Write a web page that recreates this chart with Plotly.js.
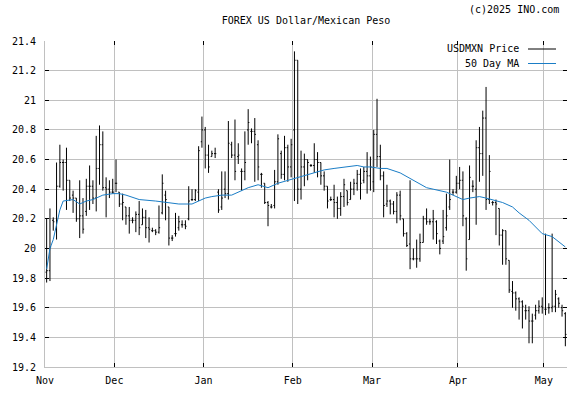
<!DOCTYPE html>
<html>
<head>
<meta charset="utf-8">
<script src="https://cdn.plot.ly/plotly-3.0.1.min.js"></script>
<style>
  html, body { margin: 0; padding: 0; background: #fff; }
  #chart { width: 585px; height: 394px; }
</style>
</head>
<body>
<div id="chart"></div>
<script>
// Daily USDMXN sessions (Sun-Fri), Nov 6 2024 .. May 8 2025
const openP = [
19.84,19.85,20.19,20.13,20.42,20.58,20.58,20.46,20.36,20.34,20.20,20.22,20.25,20.42,20.42,20.34,20.54,20.70,20.41,20.40,
20.38,20.44,20.38,20.30,20.28,20.22,20.19,20.19,20.23,20.16,20.21,20.14,20.12,20.12,20.11,20.24,20.36,20.28,20.07,20.10,
20.14,20.16,20.16,20.20,20.33,20.33,20.38,20.72,20.80,20.63,20.62,20.64,20.38,20.28,20.40,20.37,20.70,20.63,20.62,20.52,
20.52,20.80,20.79,20.79,20.70,20.50,20.44,20.31,20.28,20.29,20.45,20.64,20.50,20.68,20.55,20.80,21.27,20.40,20.55,20.60,
20.56,20.56,20.60,20.58,20.49,20.42,20.33,20.33,20.31,20.27,20.35,20.39,20.33,20.40,20.44,20.50,20.46,20.52,20.49,20.45,
20.77,20.62,20.49,20.30,20.32,20.30,20.25,20.36,20.20,20.10,20.03,19.93,19.93,19.93,20.04,20.20,20.18,20.18,20.18,20.05,
20.05,20.14,20.28,20.38,20.38,20.44,20.46,20.20,20.06,20.42,20.40,20.68,20.64,20.88,20.33,20.31,20.31,20.27,20.09,20.12,
19.92,19.71,19.70,19.66,19.64,19.58,19.58,19.51,19.55,19.58,19.61,19.59,19.60,19.60,19.61,19.66,19.60,19.56
];
const highP = [
20.20,20.27,20.21,20.58,20.70,20.60,20.68,20.46,20.39,20.34,20.46,20.34,20.47,20.56,20.46,20.76,20.83,20.79,20.48,20.46,
20.47,20.60,20.38,20.37,20.28,20.28,20.21,20.25,20.32,20.27,20.26,20.21,20.14,20.13,20.29,20.50,20.39,20.28,20.09,20.24,
20.22,20.19,20.19,20.42,20.40,20.40,20.69,20.89,20.82,20.70,20.66,20.68,20.40,20.52,20.52,20.86,20.72,20.87,20.71,20.54,
20.79,20.94,20.81,20.88,20.73,20.51,20.44,20.32,20.30,20.53,20.77,20.66,20.76,20.70,20.74,21.33,21.27,20.66,20.64,20.60,
20.57,20.71,20.65,20.58,20.52,20.42,20.35,20.43,20.35,20.38,20.47,20.39,20.45,20.47,20.53,20.54,20.55,20.65,20.62,20.80,
21.01,20.70,20.52,20.43,20.33,20.32,20.38,20.39,20.20,20.11,20.46,20.00,20.06,20.10,20.22,20.27,20.20,20.26,20.19,20.06,
20.26,20.37,20.60,20.40,20.49,20.55,20.52,20.21,20.56,20.46,20.73,20.82,20.93,21.09,20.63,20.32,20.33,20.27,20.13,20.12,
19.92,19.78,19.71,19.67,19.65,19.62,19.61,19.56,19.62,19.65,19.67,20.10,19.63,20.10,19.72,19.67,19.62,19.57
];
const lowP = [
19.77,19.78,20.12,20.06,20.41,20.39,20.26,20.32,20.24,20.18,20.07,20.10,20.22,20.26,20.30,20.25,20.43,20.39,20.21,20.34,
20.37,20.38,20.28,20.19,20.16,20.10,20.17,20.11,20.09,20.16,20.07,20.04,20.11,20.09,20.10,20.23,20.19,20.02,20.05,20.08,
20.12,20.14,20.13,20.19,20.32,20.32,20.32,20.68,20.54,20.51,20.62,20.61,20.24,20.26,20.34,20.33,20.61,20.46,20.57,20.39,
20.46,20.70,20.71,20.45,20.46,20.41,20.30,20.15,20.27,20.27,20.43,20.47,20.46,20.45,20.48,20.32,20.30,20.33,20.42,20.46,
20.55,20.51,20.48,20.43,20.39,20.27,20.32,20.21,20.20,20.22,20.28,20.29,20.33,20.36,20.39,20.33,20.44,20.37,20.39,20.38,
20.55,20.46,20.21,20.28,20.23,20.23,20.17,20.19,20.08,20.01,19.86,19.92,19.87,19.91,20.04,20.16,20.16,20.06,20.03,19.96,
20.03,20.12,20.26,20.36,20.37,20.40,20.15,19.85,20.06,20.38,20.16,20.45,20.49,20.26,20.30,20.29,20.09,20.02,19.89,19.89,
19.70,19.60,19.58,19.52,19.46,19.52,19.36,19.36,19.52,19.56,19.56,19.55,19.56,19.57,19.57,19.60,19.54,19.34
];
const closeP = [
19.85,20.01,20.18,20.42,20.58,20.58,20.46,20.34,20.34,20.20,20.22,20.13,20.42,20.42,20.34,20.54,20.70,20.41,20.40,20.38,
20.38,20.44,20.30,20.31,20.22,20.19,20.19,20.23,20.14,20.21,20.14,20.13,20.12,20.11,20.14,20.44,20.33,20.07,20.07,20.10,
20.18,20.16,20.15,20.32,20.33,20.39,20.66,20.80,20.63,20.55,20.64,20.64,20.26,20.34,20.37,20.71,20.63,20.52,20.63,20.52,
20.58,20.85,20.79,20.77,20.55,20.50,20.31,20.29,20.28,20.45,20.74,20.50,20.68,20.55,20.70,21.27,20.40,20.55,20.60,20.58,
20.56,20.60,20.58,20.49,20.42,20.32,20.33,20.31,20.27,20.35,20.43,20.31,20.40,20.44,20.50,20.44,20.52,20.49,20.55,20.77,
20.62,20.49,20.29,20.32,20.30,20.25,20.36,20.22,20.10,20.02,19.93,19.93,19.93,20.04,20.20,20.18,20.18,20.20,20.10,20.00,
20.08,20.22,20.33,20.38,20.44,20.46,20.22,19.93,20.48,20.42,20.68,20.64,20.88,20.33,20.52,20.31,20.30,20.09,20.12,19.93,
19.72,19.70,19.66,19.64,19.61,19.58,19.51,19.51,19.58,19.61,19.60,19.59,19.60,19.61,19.69,19.63,19.58,19.42
];
// 50 day moving average, read at selected sessions
const maIdx = [0,1,2,3,4,5,7,8,10,12,14,16,17,20,22,24,28,33,37,40,44,48,50,53,56,58,61,64,67,70,73,76,79,84,87,90,94,96,98,101,103,107,111,115,117,121,123,126,128,131,133,135,138,141,143,146,150,153,157];
const maVal = [19.86,20.00,20.06,20.15,20.26,20.32,20.33,20.33,20.30,20.32,20.33,20.35,20.36,20.37,20.37,20.36,20.33,20.32,20.31,20.30,20.30,20.34,20.35,20.36,20.36,20.38,20.41,20.43,20.41,20.44,20.46,20.48,20.50,20.53,20.54,20.55,20.56,20.55,20.55,20.54,20.54,20.51,20.46,20.41,20.40,20.38,20.36,20.33,20.34,20.35,20.34,20.33,20.31,20.28,20.24,20.19,20.10,20.08,20.01];
// Month labels and index of first session of each month
const monthLabels = ['Nov','Dec','Jan','Feb','Mar','Apr','May'];
const monthFirstBar = [0,21,48,75,99,125,151];

const barIdx = openP.map((_, i) => i);
const tickVals = monthFirstBar.map(v => v - 0.5);
const xRange = [-0.5, openP.length - 0.5];
const yRange = [19.2, 21.4];

const FONT = 'DejaVu Sans Mono, monospace';
const GRID = '#c0c0c0';

const traces = [
  {
    type: 'ohlc', x: barIdx, open: openP, high: highP, low: lowP, close: closeP,
    increasing: {line: {color: '#000', width: 1}},
    decreasing: {line: {color: '#000', width: 1}},
    tickwidth: 0.35, hoverinfo: 'skip', showlegend: false
  },
  {
    type: 'scatter', mode: 'lines', x: maIdx, y: maVal,
    line: {color: '#1a7dc6', width: 1}, hoverinfo: 'skip', showlegend: false
  },
  { type: 'scatter', mode: 'lines', x: [], y: [], xaxis: 'x2', yaxis: 'y2', hoverinfo: 'skip', showlegend: false }
];

const layout = {
  width: 585, height: 394,
  margin: {l: 45, r: 18, t: 41, b: 27, pad: 0},
  paper_bgcolor: '#fff', plot_bgcolor: '#fff',
  font: {family: FONT, size: 10, color: '#000'},
  showlegend: false,
  title: {text: 'FOREX US Dollar/Mexican Peso', x: 0.5, xref: 'paper', xanchor: 'center',
          y: 1 - 20.5/394, yref: 'container', yanchor: 'middle',
          font: {family: FONT, size: 10, color: '#000'}},
  xaxis: {
    type: 'linear', range: xRange, tickmode: 'array', tickvals: tickVals, ticktext: monthLabels,
    showgrid: true, gridcolor: GRID, gridwidth: 1, zeroline: false,
    showline: true, linecolor: GRID, linewidth: 1,
    ticks: 'inside', ticklen: 4, tickcolor: '#000', tickwidth: 1,
    ticklabelstandoff: 4,
    tickfont: {family: FONT, size: 10, color: '#000'},
    rangeslider: {visible: false}, fixedrange: true
  },
  yaxis: {
    range: yRange, dtick: 0.2, tick0: 19.2,
    showgrid: true, gridcolor: GRID, gridwidth: 1, zeroline: false,
    showline: true, linecolor: GRID, linewidth: 1,
    ticks: 'inside', ticklen: 4, tickcolor: '#000', tickwidth: 1,
    ticklabelstandoff: 6,
    tickfont: {family: FONT, size: 10, color: '#000'}, fixedrange: true
  },
  xaxis2: {
    overlaying: 'x', side: 'top', anchor: 'y2', range: xRange, tickmode: 'array', tickvals: tickVals,
    showticklabels: false, showgrid: false, zeroline: false, showline: false,
    ticks: 'inside', ticklen: 4, tickcolor: '#000', tickwidth: 1, fixedrange: true
  },
  yaxis2: {
    overlaying: 'y', side: 'right', anchor: 'x2', range: yRange, dtick: 0.2, tick0: 19.2,
    showticklabels: false, showgrid: false, zeroline: false, showline: false,
    ticks: 'inside', ticklen: 4, tickcolor: '#000', tickwidth: 1, fixedrange: true
  },
  annotations: [
    {text: '(c)2025 INO.com', xref: 'paper', yref: 'paper', x: (561-45)/522, y: 1 + (41-9.5)/326,
     xanchor: 'right', yanchor: 'middle', showarrow: false, font: {family: FONT, size: 10, color: '#000'}},
    {text: 'USDMXN Price', xref: 'paper', yref: 'paper', x: (521-45)/522, y: (367-49)/326,
     xanchor: 'right', yanchor: 'middle', showarrow: false, font: {family: FONT, size: 10, color: '#000'}},
    {text: '50 Day MA', xref: 'paper', yref: 'paper', x: (521-45)/522, y: (367-63.5)/326,
     xanchor: 'right', yanchor: 'middle', showarrow: false, font: {family: FONT, size: 10, color: '#000'}}
  ],
  shapes: [
    {type: 'line', xref: 'paper', yref: 'paper', x0: (528-45)/522, x1: (556-45)/522,
     y0: (367-49)/326, y1: (367-49)/326, line: {color: '#000', width: 1}},
    {type: 'line', xref: 'paper', yref: 'paper', x0: (528-45)/522, x1: (556-45)/522,
     y0: (367-63.5)/326, y1: (367-63.5)/326, line: {color: '#1a7dc6', width: 1}}
  ]
};

Plotly.newPlot('chart', traces, layout, {staticPlot: true, displayModeBar: false});
</script>
</body>
</html>
